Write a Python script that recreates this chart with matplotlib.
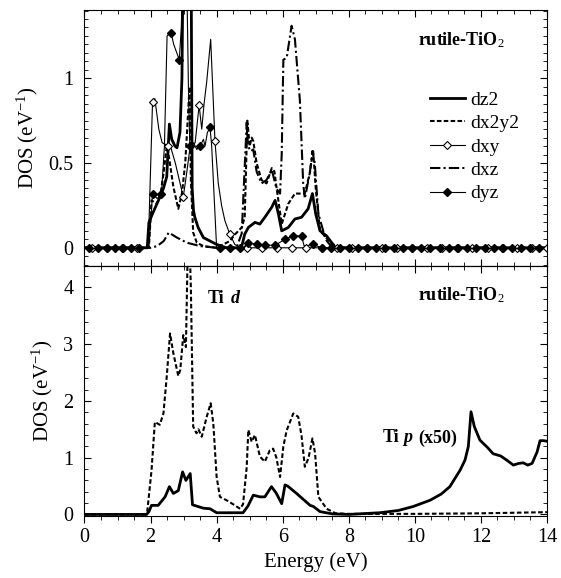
import matplotlib
matplotlib.use("Agg")
import matplotlib.pyplot as plt
from matplotlib.lines import Line2D
from matplotlib.ticker import MultipleLocator, FuncFormatter

plt.rcParams["font.family"] = ["Liberation Serif", "DejaVu Serif"]
plt.rcParams["mathtext.fontset"] = "custom"
plt.rcParams["mathtext.rm"] = "Liberation Serif"
plt.rcParams["mathtext.it"] = "Liberation Serif:italic"
plt.rcParams["mathtext.bf"] = "Liberation Serif:bold"

# ---- top panel: Ti d orbital-resolved DOS ----
dz2_e = [0, 1.9, 1.95, 2.08, 2.24, 2.39, 2.49, 2.57, 2.64, 2.74, 2.8, 2.89, 2.95, 3.0, 3.15,
         3.22, 3.26, 3.3, 3.34, 3.44, 3.6, 3.8, 4.0, 4.3, 4.75, 4.85, 4.96, 5.16, 5.31, 5.46,
         5.67, 5.77, 5.87, 5.97, 6.17, 6.37, 6.57, 6.77, 6.9, 7.0, 7.13, 7.33, 7.6, 14]
dz2_v = [0, 0, 0.15, 0.21, 0.28, 0.35, 0.42, 0.73, 0.64, 0.6, 0.59, 0.68, 1.0, 2.0, 2.6,
         2.0, 0.35, 0.22, 0.18, 0.12, 0.06, 0.04, 0.02, 0, 0, 0.08, 0.12, 0.15, 0.14, 0.18,
         0.24, 0.28, 0.2, 0.1, 0.12, 0.17, 0.18, 0.23, 0.32, 0.2, 0.1, 0.07, 0, 0]

dx2y2_e = [0, 1.95, 2.03, 2.18, 2.29, 2.4, 2.49, 2.57, 2.69, 2.84, 2.95, 3.05, 3.1, 3.18, 3.22,
           3.29, 3.4, 3.6, 4.0, 4.4, 4.56, 4.76, 4.85, 4.93, 5.0, 5.06, 5.11, 5.21, 5.36, 5.51,
           5.67, 5.75, 5.81, 5.97, 6.17, 6.37, 6.67, 6.82, 6.92, 7.0, 7.13, 7.45, 7.7, 14]
dx2y2_v = [0, 0, 0.28, 0.26, 0.3, 0.45, 0.6, 0.52, 0.36, 0.23, 0.32, 0.5, 0.67, 0.95, 0.4,
           0.09, 0.03, 0.01, 0, 0.04, 0.08, 0.12, 0.18, 0.75, 0.6, 0.65, 0.63, 0.5, 0.4, 0.38,
           0.47, 0.45, 0.36, 0.14, 0.26, 0.32, 0.32, 0.44, 0.58, 0.35, 0.1, 0.03, 0, 0]

dxz_e = [0, 2.0, 2.2, 2.4, 2.55, 2.8, 3.1, 3.5, 4.0, 4.6, 4.76, 4.91, 4.95, 5.03, 5.11, 5.21,
         5.36, 5.51, 5.67, 5.81, 5.92, 5.97, 6.02, 6.12, 6.27, 6.37, 6.52, 6.62, 6.67, 6.82,
         6.9, 6.97, 7.08, 7.3, 7.5, 14]
dxz_v = [0, 0, 0.01, 0.04, 0.09, 0.06, 0.03, 0.01, 0, 0, 0.085, 0.74, 0.6, 0.57, 0.58, 0.45,
         0.38, 0.4, 0.46, 0.35, 0.32, 0.55, 1.11, 1.12, 1.31, 1.23, 0.87, 0.38, 0.29, 0.44,
         0.57, 0.5, 0.2, 0.05, 0, 0]

dxy_e = [0, 1.93, 2.06, 2.13, 2.25, 2.35, 2.45, 2.6, 2.75, 2.99, 3.1, 3.2, 3.35, 3.47, 3.55,
         3.62, 3.7, 3.82, 3.95, 4.05, 4.15, 4.25, 4.4, 4.55, 4.7, 14]
dxy_v = [0, 0, 0.86, 0.88, 0.7, 0.62, 0.61, 0.6, 0.5, 0.3, 0.45, 0.6, 0.62, 0.84, 0.7,
         0.85, 0.98, 1.23, 0.63, 0.38, 0.25, 0.16, 0.08, 0.02, 0, 0]
dxy_mark_e = [0.24, 0.69, 1.15, 1.6, 2.06, 2.52, 2.99, 3.47, 3.95, 4.4, 4.91, 5.36, 5.82,
              6.27, 6.72, 7.18, 7.64, 8.1, 8.55, 9.0, 9.46, 9.92, 10.37, 10.83, 11.28,
              11.74, 12.2, 12.65, 13.1, 13.56, 14.0]
dxy_mark_v = [0, 0, 0, 0, 0.86, 0.6, 0.3, 0.84, 0.63, 0.08] + [0] * 21

dyz_e = [0, 1.95, 2.06, 2.2, 2.33, 2.42, 2.5, 2.62, 2.7, 2.87, 2.93, 3.0, 3.08, 3.15, 3.19,
         3.3, 3.4, 3.5, 3.6, 3.65, 3.72, 3.8, 3.85, 4.0, 4.8, 4.96, 5.21, 5.46, 5.77, 6.07,
         6.32, 6.57, 6.65, 6.92, 7.18, 14]
dyz_v = [0, 0, 0.32, 0.29, 0.32, 0.6, 1.25, 1.27, 1.2, 1.11, 1.3, 1.8, 1.8, 0.9, 0.6,
         0.62, 0.58, 0.6, 0.64, 0.6, 0.68, 0.71, 0.6, 0, 0, 0.03, 0.02, 0.015, 0.015, 0.05,
         0.07, 0.07, 0.01, 0.02, 0, 0]
dyz_mark_e = [0.15, 0.4, 0.67, 0.92, 1.17, 1.42, 1.65, 2.06, 2.33, 2.62, 2.87, 3.19, 3.5,
              3.8, 4.1, 4.4, 4.7, 4.96, 5.21, 5.46, 5.77, 6.07, 6.32, 6.57, 6.92, 7.18,
              7.45, 7.72, 8.0, 8.27, 8.55, 8.82, 9.1, 9.37, 9.65, 9.92, 10.2, 10.47, 10.75,
              11.02, 11.3, 11.57, 11.85, 12.12, 12.4, 12.67, 12.95, 13.22, 13.5, 13.77]
dyz_mark_v = ([0] * 7 + [0.32, 0.32, 1.27, 1.11, 0.6, 0.6, 0.71, 0, 0, 0,
              0.03, 0.02, 0.015, 0.015, 0.05, 0.07, 0.07, 0.02, 0] + [0] * 24)

# ---- bottom panel: total Ti d and Ti p (x50) ----
tid_e = [0, 1.83, 1.9, 2.03, 2.13, 2.28, 2.39, 2.49, 2.59, 2.69, 2.84, 2.9, 2.99, 3.07, 3.12,
         3.17, 3.22, 3.29, 3.39, 3.45, 3.55, 3.7, 3.82, 3.9, 4.0, 4.1, 4.3, 4.5, 4.71, 4.8,
         4.91, 4.96, 5.06, 5.16, 5.31, 5.46, 5.61, 5.71, 5.81, 5.92, 6.02, 6.12, 6.32, 6.47,
         6.57, 6.67, 6.78, 6.9, 6.98, 7.08, 7.33, 7.6, 8.0, 10.0, 12.0, 13.0, 14.0]
tid_v = [0, 0, 0.05, 0.78, 1.63, 1.58, 1.78, 2.43, 3.19, 2.84, 2.44, 2.55, 3.16, 2.95, 4.5,
         5.0, 4.0, 1.55, 1.43, 1.5, 1.37, 1.72, 1.96, 1.6, 0.66, 0.31, 0.25, 0.18, 0.1, 0.18,
         0.83, 1.49, 1.28, 1.4, 1.02, 0.93, 1.13, 1.16, 1.0, 0.66, 1.2, 1.48, 1.78, 1.72,
         1.39, 0.84, 0.99, 1.34, 1.08, 0.31, 0.1, 0.02, 0.01, 0.01, 0.02, 0.03, 0.04]

tip_e = [0, 1.88, 1.95, 2.03, 2.23, 2.44, 2.57, 2.69, 2.84, 2.97, 3.07, 3.2, 3.27, 3.49, 3.6,
         3.8, 4.0, 4.8, 4.95, 5.11, 5.31, 5.46, 5.66, 5.8, 5.97, 6.07, 6.15, 6.42, 6.83, 6.93,
         7.13, 7.5, 8.0, 8.94, 9.5, 9.95, 10.46, 10.8, 11.06, 11.37, 11.52, 11.62, 11.7, 11.8,
         11.97, 12.2, 12.37, 12.6, 12.8, 12.98, 13.15, 13.28, 13.42, 13.55, 13.7, 13.79,
         13.9, 14.0]
tip_v = [0, 0, 0.05, 0.16, 0.16, 0.31, 0.49, 0.37, 0.42, 0.75, 0.6, 0.72, 0.17, 0.13, 0.11,
         0.1, 0.03, 0.03, 0.15, 0.34, 0.31, 0.31, 0.49, 0.38, 0.19, 0.52, 0.5, 0.37, 0.16, 0.14,
         0.05, 0.01, 0.0, 0.03, 0.07, 0.14, 0.25, 0.36, 0.49, 0.78, 0.96, 1.2, 1.81, 1.55,
         1.31, 1.18, 1.07, 1.03, 0.95, 0.87, 0.9, 0.91, 0.87, 0.9, 1.1, 1.3,
         1.3, 1.29]

fig = plt.figure(figsize=(5.61, 5.78), dpi=100)
ax1 = fig.add_axes([0.1506, 0.5405, 0.8244, 0.4422])
ax2 = fig.add_axes([0.1506, 0.108, 0.8244, 0.4325])

thick = 2.0
ax1.plot(dxz_e, dxz_v, color="black", lw=1.5, dashes=(5, 1.5, 1, 1.5))
ax1.plot(dx2y2_e, dx2y2_v, color="black", lw=1.5, dashes=(2.2, 1.1))
ax1.plot(dz2_e, dz2_v, color="black", lw=thick)
ax1.plot(dxy_e, dxy_v, color="black", lw=0.8)
ax1.plot(dyz_e, dyz_v, color="black", lw=0.8)
ax1.plot(dxy_mark_e, dxy_mark_v, ls="none", marker="D", ms=3.8, mfc="white", mec="black", mew=0.8)
ax1.plot(dyz_mark_e, dyz_mark_v, ls="none", marker="D", ms=3.8, mfc="black", mec="black")

handles = [
    Line2D([], [], color="black", lw=thick),
    Line2D([], [], color="black", lw=1.5, dashes=(2.2, 1.1)),
    Line2D([], [], color="black", lw=0.8, marker="D", ms=3.8, mfc="white", mec="black", mew=0.8),
    Line2D([], [], color="black", lw=1.5, dashes=(5, 1.5, 1, 1.5)),
    Line2D([], [], color="black", lw=0.8, marker="D", ms=3.8, mfc="black", mec="black"),
]
ax1.legend(handles, ["dz2", "dx2y2", "dxy", "dxz", "dyz"], loc="upper left",
           bbox_to_anchor=(0.747, 0.683), frameon=False, fontsize=14, numpoints=1,
           handlelength=1.8, handletextpad=0.25, labelspacing=0.3, borderpad=0, borderaxespad=0)

ax1.text(10.09, 1.226, "rutile-TiO$_2$", fontsize=13, fontweight="bold", va="center")
ax1.set_xlim(0, 14)
ax1.set_ylim(-0.105, 1.403)
ax1.set_yticks([0, 0.5, 1])
ax1.yaxis.set_minor_locator(MultipleLocator(0.05))
ax1.xaxis.set_major_locator(MultipleLocator(2))
ax1.xaxis.set_minor_locator(MultipleLocator(0.5))
ax1.yaxis.set_major_formatter(FuncFormatter(lambda v, p: f"{v:g}"))
ax1.tick_params(which="both", direction="in", top=True, right=True, labelbottom=False,
                labelsize=14.5, pad=8)
ax1.tick_params(which="major", length=5)
ax1.tick_params(which="minor", length=3)
ax1.set_ylabel("DOS (eV$^{-1}$)", fontsize=15, labelpad=6)

ax2.plot(tid_e, tid_v, color="black", lw=1.5, dashes=(2.2, 1.2))
ax2.plot(tip_e, tip_v, color="black", lw=thick)
ax2.text(10.09, 3.87, "rutile-TiO$_2$", fontsize=13, fontweight="bold", va="center")
ax2.text(3.74, 3.81, "Ti", fontsize=13, fontweight="bold", va="center")
ax2.text(4.43, 3.81, "d", fontsize=13, fontweight="bold", style="italic", va="center")
ax2.text(9.03, 1.35, "Ti", fontsize=13, fontweight="bold", va="center")
ax2.text(9.64, 1.35, "p", fontsize=13, fontweight="bold", style="italic", va="center")
ax2.text(10.09, 1.35, "(x50)", fontsize=13, fontweight="bold", va="center")
ax2.set_xlim(0, 14)
ax2.set_ylim(-0.02, 4.386)
ax2.yaxis.set_major_locator(MultipleLocator(1))
ax2.yaxis.set_minor_locator(MultipleLocator(0.2))
ax2.xaxis.set_major_locator(MultipleLocator(2))
ax2.xaxis.set_minor_locator(MultipleLocator(0.5))
ax2.tick_params(axis="y", which="both", direction="in", right=True, labelsize=14.5, pad=8)
ax2.tick_params(axis="x", which="both", direction="out", top=False, labelsize=14.5, pad=4)
ax2.tick_params(which="major", length=5)
ax2.tick_params(which="minor", length=3)
top2 = ax2.secondary_xaxis("top")
top2.xaxis.set_major_locator(MultipleLocator(2))
top2.xaxis.set_minor_locator(MultipleLocator(0.5))
top2.tick_params(which="both", direction="in", labeltop=False)
top2.tick_params(which="major", length=5)
top2.tick_params(which="minor", length=3)
ax2.set_xlabel("Energy (eV)", fontsize=15, labelpad=4)
ax2.set_ylabel("DOS (eV$^{-1}$)", fontsize=15, labelpad=6)

fig.savefig("out.png", dpi=100)
